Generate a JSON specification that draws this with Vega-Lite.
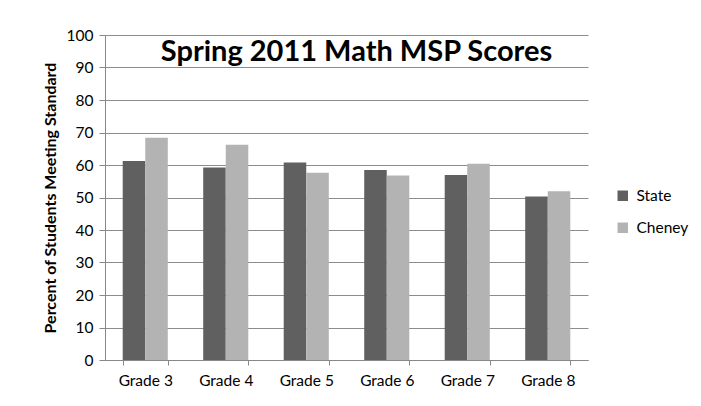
{
  "$schema": "https://vega.github.io/schema/vega-lite/v6.json",
  "width": 483,
  "height": 325,
  "autosize": {"type": "none"},
  "padding": {"left": 105, "top": 35, "right": 113, "bottom": 46},
  "background": "white",
  "title": {
    "text": "Spring 2011 Math MSP Scores",
    "font": "Lato",
    "fontSize": 29,
    "fontWeight": "bold",
    "color": "black",
    "anchor": "middle",
    "frame": "group",
    "offset": -39,
    "dx": 10
  },
  "data": {
    "values": [
      {"grade": "Grade 3", "series": "State", "value": 61.2},
      {"grade": "Grade 3", "series": "Cheney", "value": 68.4},
      {"grade": "Grade 4", "series": "State", "value": 59.2},
      {"grade": "Grade 4", "series": "Cheney", "value": 66.2},
      {"grade": "Grade 5", "series": "State", "value": 60.8},
      {"grade": "Grade 5", "series": "Cheney", "value": 57.6},
      {"grade": "Grade 6", "series": "State", "value": 58.5},
      {"grade": "Grade 6", "series": "Cheney", "value": 56.8},
      {"grade": "Grade 7", "series": "State", "value": 56.9},
      {"grade": "Grade 7", "series": "Cheney", "value": 60.4},
      {"grade": "Grade 8", "series": "State", "value": 50.3},
      {"grade": "Grade 8", "series": "Cheney", "value": 51.9}
    ]
  },
  "mark": {"type": "bar"},
  "encoding": {
    "x": {
      "field": "grade",
      "type": "nominal",
      "title": null,
      "scale": {"paddingInner": 0.44, "paddingOuter": 0.22},
      "axis": {
        "labelAngle": 0,
        "labelFont": "Lato",
        "labelFontSize": 15.5,
        "labelColor": "black",
        "labelPadding": 8,
        "domainColor": "#888888",
        "tickColor": "#888888",
        "tickBand": "extent",
        "tickSize": 5
      }
    },
    "xOffset": {"field": "series", "type": "nominal", "sort": ["State", "Cheney"]},
    "y": {
      "field": "value",
      "type": "quantitative",
      "scale": {"domain": [0, 100], "nice": false},
      "title": "Percent of Students Meeting Standard",
      "axis": {
        "values": [0, 10, 20, 30, 40, 50, 60, 70, 80, 90, 100],
        "labelFont": "Lato",
        "labelFontSize": 15.5,
        "labelColor": "black",
        "labelPadding": 6,
        "titleFont": "Lato",
        "titleFontSize": 16,
        "titleFontWeight": "bold",
        "titleColor": "black",
        "titlePadding": 8,
        "domainColor": "#888888",
        "tickColor": "#888888",
        "tickSize": 6,
        "gridColor": "#8c8c8c",
        "grid": true
      }
    },
    "color": {
      "field": "series",
      "type": "nominal",
      "sort": ["State", "Cheney"],
      "scale": {"domain": ["State", "Cheney"], "range": ["#606060", "#b3b3b3"]},
      "legend": {
        "title": null,
        "orient": "none",
        "legendX": 510,
        "legendY": 153,
        "symbolType": "square",
        "symbolSize": 110,
        "symbolStrokeWidth": 0,
        "labelFont": "Lato",
        "labelFontSize": 15.5,
        "labelColor": "black",
        "rowPadding": 15,
        "labelOffset": 6
      }
    }
  },
  "config": {
    "view": {"stroke": null},
    "axis": {"domainWidth": 1, "gridWidth": 1}
  }
}
